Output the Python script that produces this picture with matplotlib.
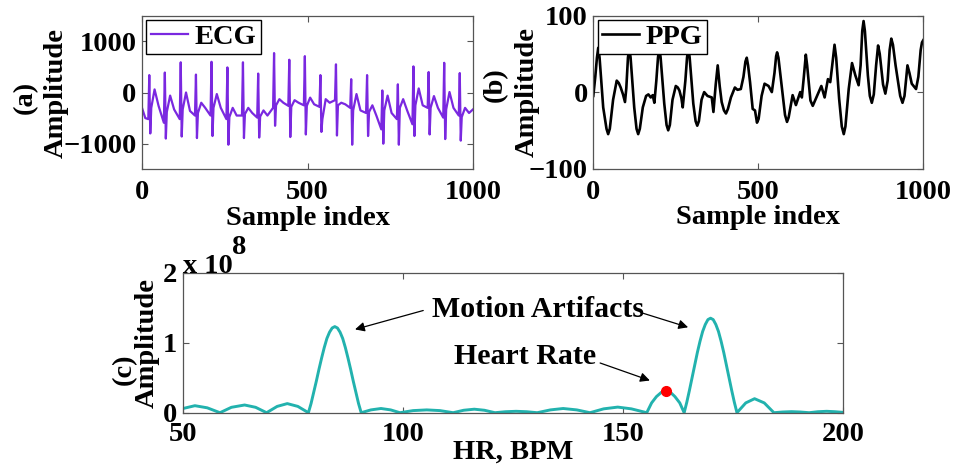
import matplotlib
matplotlib.use("Agg")
import matplotlib.pyplot as plt

plt.rcParams['font.family'] = ['Liberation Serif', 'DejaVu Serif']
plt.rcParams['font.weight'] = 'bold'
plt.rcParams['axes.labelweight'] = 'bold'

# ---------------- data ----------------
# ECG: per-beat values (sample index of R peak and amplitudes of the wave landmarks)
ecg_r_idx = [22, 69, 117, 163, 210, 258, 305, 351, 399, 445, 492, 539, 586, 632, 680, 726, 773, 820, 866, 913, 960]
ecg_r_amp = [340, 390, 590, 350, 600, 490, 590, 370, 770, 640, 710, 340, 550, 260, 340, 40, 160, 510, 400, 580, 380]
ecg_s_amp = [-800, -900, -860, -890, -850, -1020, -890, -880, -650, -870, -820, -770, -840, -1020, -850, -1000, -1020, -850, -820, -910, -940]
ecg_q_amp = [-520, -590, -520, -450, -450, -520, -450, -490, -300, -260, -250, -280, -150, -300, -400, -720, -520, -620, -300, -490, -450]
ecg_j_amp = [-300, -380, -330, -400, -300, -480, -420, -470, -250, -280, -260, -520, -250, -350, -380, -350, -300, -250, -300, -330, -480]
ecg_t_amp = [60, -60, 0, -200, -30, -300, -300, -350, -130, -150, -100, -130, -200, -30, -250, -60, -130, 80, -70, 10, -300]
ecg_u_amp = [-260, -330, -360, -300, -300, -450, -400, -450, -200, -200, -230, -200, -230, -350, -450, -400, -350, -250, -300, -300, -400]
ecg_landmark_offsets = [-3, 0, 3, 6, 16, 28]   # Q, R, S, J, T, post-T (samples from R)
ecg_head_x, ecg_head_y = [0, 10], [-300, -500]
ecg_tail_x, ecg_tail_y = [1000], [-330]

# PPG: sample index and amplitude
ppg_x = [0, 6, 11, 15, 19, 30, 40, 45, 50, 60, 71, 77, 83, 90, 96, 100, 105, 109, 113, 124,
         131, 136, 141, 150, 160, 167, 174, 180, 185, 191, 196, 200, 204, 215, 222, 227, 232,
         240, 250, 256, 261, 267, 271, 279, 284, 288, 292, 303, 310, 315, 320, 328, 336, 346,
         359, 364, 371, 377, 383, 389, 396, 402, 408, 417, 429, 437, 447, 455, 461, 465, 469,
         475, 483, 490, 496, 501, 510, 519, 531, 541, 549, 554, 557, 561, 572, 581, 587, 592,
         604, 614, 627, 632, 638, 644, 648, 658, 665, 678, 691, 701, 711, 718, 724, 731, 736,
         745, 753, 759, 764, 774, 784, 794, 804, 810, 815, 819, 823, 832, 838, 844, 850, 857,
         863, 868, 878, 885, 892, 898, 903, 908, 916, 930, 937, 943, 952, 958, 965, 978, 985,
         992, 996, 1000]
ppg_y = [-5, 20, 45, 58, 45, -20, -48, -55, -48, -10, 15, 12, 6, -3, -13, 5, 45, 58, 45, -20,
         -48, -55, -48, -20, -5, -3, -7, -4, -14, 15, 45, 58, 45, -15, -43, -50, -43,
         -10, 8, 6, 2, -8, -20, 15, 45, 58, 45, -15, -38, -44, -38, -10, 0, -5,
         -7, -26, 10, 35, 8, -13, -24, -28, -22, -7, 6, 3, 4, 20, 40, 45, 35,
         13, -22, -24, -40, -35, -5, 11, 8, 0, 25, 47, 52, 45, 4, -30, -39, -33,
         -4, -17, 0, -7, 20, 49, 35, -11, -18, -5, 8, -7, 17, 13, 35, 62, 45,
         -9, -45, -55, -45, 4, 38, 22, 9, 35, 80, 93, 80, 22, -5, -14, -3, 35,
         61, 50, 10, -2, 15, 55, 70, 62, 35, -5, -14, -5, 35, 25, 11, 4, 20,
         55, 65, 68]

# Spectrum (amplitude in units of 1e8) versus heart rate in BPM
spec_bpm = [50.0, 52.7, 55.5, 58.4, 61.0, 64.0, 66.5, 69.0, 71.4, 73.7, 76.1, 78.5,
            79.1, 79.7, 80.3, 80.9, 81.5, 82.1, 82.7, 83.3, 83.9, 84.5, 85.1, 85.7, 86.3,
            86.9, 87.5, 88.1, 88.7, 89.3, 89.9, 90.5,
            92.7, 95.0, 97.2, 99.3, 102.3, 105.4, 108.4, 111.4, 113.8, 116.2, 118.5, 120.9,
            123.3, 125.7, 128.1, 130.5, 133.5, 136.4, 139.5, 142.5, 145.6, 148.8, 151.9, 155.4,
            156.5, 157.6, 158.7, 159.8, 160.8, 161.8, 162.9, 163.9,
            164.5, 165.1, 165.7, 166.3, 166.9, 167.5, 168.1, 168.7, 169.3, 169.9, 170.5, 171.1,
            171.7, 172.3, 172.9, 173.5, 174.1, 174.7, 175.3, 175.9,
            177.9, 179.9, 182.1, 184.3, 186.3, 188.3, 190.3, 192.3, 194.3, 196.3, 198.2, 200.0]
spec_amp = [0.06, 0.10, 0.07, 0.0, 0.077, 0.11, 0.077, 0.0, 0.09, 0.13, 0.09, 0.0,
            0.13, 0.29, 0.45, 0.62, 0.78, 0.93, 1.06, 1.15, 1.21, 1.23, 1.21, 1.15, 1.06,
            0.93, 0.78, 0.62, 0.45, 0.29, 0.13, 0.0,
            0.04, 0.06, 0.04, 0.0, 0.03, 0.04, 0.03, 0.0, 0.035, 0.05, 0.035, 0.0,
            0.014, 0.02, 0.014, 0.0, 0.04, 0.06, 0.04, 0.0, 0.055, 0.08, 0.055, 0.0,
            0.14, 0.23, 0.29, 0.32, 0.29, 0.23, 0.14, 0.0,
            0.15, 0.32, 0.50, 0.68, 0.86, 1.02, 1.16, 1.26, 1.33, 1.35, 1.33, 1.26,
            1.16, 1.02, 0.86, 0.68, 0.50, 0.32, 0.15, 0.0,
            0.14, 0.20, 0.14, 0.0, 0.01, 0.015, 0.01, 0.0, 0.014, 0.02, 0.014, 0.005]
hr_bpm, hr_amp = 159.8, 0.31

# ---------------- build ECG polyline from the landmarks ----------------
ecg_x, ecg_y = list(ecg_head_x), list(ecg_head_y)
for r, q, ra, s, j, t, u in zip(ecg_r_idx, ecg_q_amp, ecg_r_amp, ecg_s_amp,
                               ecg_j_amp, ecg_t_amp, ecg_u_amp):
    for off, val in zip(ecg_landmark_offsets, [q, ra, s, j, t, u]):
        ecg_x.append(r + off)
        ecg_y.append(val)
ecg_x += ecg_tail_x
ecg_y += ecg_tail_y

# ---------------- figure ----------------
W, H = 956, 466
fig = plt.figure(figsize=(W / 100, H / 100), dpi=100)

def frac(l, t, r, b):
    return [l / W, 1 - b / H, (r - l) / W, (b - t) / H]

axa = fig.add_axes(frac(142, 15.7, 473, 169.3))
axb = fig.add_axes(frac(593.3, 15.7, 923.3, 168.5))
axc = fig.add_axes(frac(183, 272.7, 843, 412.7))

FS = 20.5
FA = 21.5
spine_col = '#555555'
for ax in (axa, axb, axc):
    for sp in ax.spines.values():
        sp.set_color(spine_col)
        sp.set_linewidth(0.9)
    ax.tick_params(direction='in', top=True, right=True, length=4, width=0.8,
                   color=spine_col, labelsize=FS, pad=4)
    ax.tick_params(axis='x', pad=8)

# (a) ECG
axa.plot(ecg_x, ecg_y, color='#7A28E0', lw=1.6, label='ECG')
axa.set_xlim(0, 1000)
axa.set_ylim(-1500, 1500)
axa.set_xticks([0, 500, 1000])
axa.set_yticks([-1000, 0, 1000])

# (b) PPG
axb.plot(ppg_x, ppg_y, color='black', lw=1.9, label='PPG')
axb.set_xlim(0, 1000)
axb.set_ylim(-100, 100)
axb.set_xticks([0, 500, 1000])
axb.set_yticks([-100, 0, 100])

for ax in (axa, axb):
    leg = ax.legend(loc='upper left', fancybox=False, edgecolor='black', framealpha=1,
                    handlelength=1.3, handletextpad=0.25, borderpad=0.15,
                    borderaxespad=0.15, prop=dict(weight='bold', size=FS))
    leg.get_frame().set_linewidth(1.0)
    ax.set_xlabel('Sample index', fontsize=FS, fontweight='bold')
    ax.xaxis.set_label_coords(0.5, -0.32)
    ax.xaxis.label.set_verticalalignment('center')

# (c) spectrum
axc.plot(spec_bpm, spec_amp, color='#22B2AE', lw=2.1)
axc.plot([hr_bpm], [hr_amp], 'o', color='red', markersize=7, zorder=5)
axc.set_xlim(50, 200)
axc.set_ylim(0, 2)
axc.set_xticks([50, 100, 150, 200])
axc.set_yticks([0, 1, 2])
axc.tick_params(axis='x', pad=7)
axc.set_xlabel('HR, BPM', fontsize=FS, fontweight='bold')
axc.xaxis.set_label_coords(0.5, -0.28)
axc.xaxis.label.set_verticalalignment('center')
axc.text(0.0, 1.0, 'x 10', transform=axc.transAxes, ha='left', va='baseline',
         fontsize=FS, fontweight='bold')
axc.text(0.074, 1.135, '8', transform=axc.transAxes, ha='left', va='baseline',
         fontsize=FS, fontweight='bold')

arrow = dict(arrowstyle='-|>', lw=0.9, color='black', mutation_scale=14,
             shrinkA=0, shrinkB=0)
axc.annotate('', xy=(89.1, 1.19), xytext=(104.6, 1.46), arrowprops=arrow)
axc.annotate('', xy=(164.8, 1.22), xytext=(154.6, 1.42), arrowprops=arrow)
axc.annotate('', xy=(156.1, 0.46), xytext=(144.8, 0.71), arrowprops=arrow)
axc.text(130.6, 1.47, 'Motion Artifacts', ha='center', va='center',
         fontsize=FA, fontweight='bold')
axc.text(127.8, 0.81, 'Heart Rate', ha='center', va='center',
         fontsize=FA, fontweight='bold')

# y labels with panel tags
def ylab(ax, x_axes, tag, tag_xy):
    ax.set_ylabel('Amplitude', fontsize=FS, fontweight='bold')
    ax.yaxis.set_label_coords(x_axes, 0.5)
    ax.yaxis.label.set_verticalalignment('center')
    fig.text(tag_xy[0] / W, 1 - tag_xy[1] / H, tag, rotation=90, ha='center',
             va='center', fontsize=FS, fontweight='bold')

ylab(axa, (56.7 - 142) / 331, '(a)', (25, 97))
ylab(axb, (527 - 593.3) / 330, '(b)', (495, 85))
ylab(axc, (147 - 183) / 660, '(c)', (124, 369))

fig.savefig('out.png', dpi=100)
